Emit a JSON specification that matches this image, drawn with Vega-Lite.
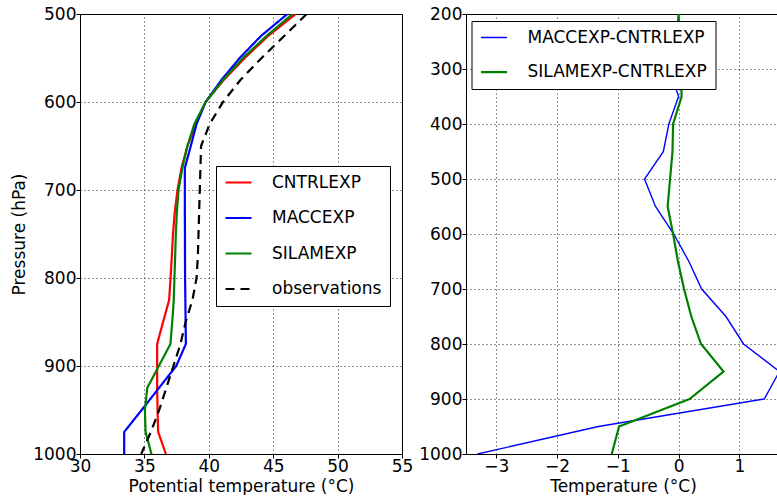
{
  "$schema": "https://vega.github.io/schema/vega-lite/v6.json",
  "background": "white",
  "padding": {"left": 10, "top": 4, "right": 0, "bottom": 0},
  "bounds": "flush",
  "spacing": 64,
  "config": {
    "font": "DejaVu Sans",
    "view": {"stroke": "black", "strokeWidth": 1},
    "axis": {
      "labelFont": "DejaVu Sans", "labelFontSize": 17, "labelColor": "black",
      "titleFont": "DejaVu Sans", "titleFontSize": 17, "titleFontWeight": "normal", "titleColor": "black",
      "domain": false, "grid": true, "gridColor": "black", "gridDash": [1, 3], "gridOpacity": 0.85,
      "ticks": true, "tickColor": "black", "tickSize": 4,
      "labelOverlap": false, "labelFlush": false, "labelBound": false
    },
    "axisX": {"labelPadding": 0, "titlePadding": 4},
    "axisY": {"labelPadding": 0, "titlePadding": 4},
    "legend": {
      "orient": "none", "symbolType": "stroke", "symbolSize": 676, "clipHeight": 17,
      "rowPadding": 17.5, "padding": 8, "labelOffset": 19, "labelFont": "DejaVu Sans",
      "labelFontSize": 17, "labelColor": "black", "strokeColor": "black", "fillColor": "white",
      "cornerRadius": 0, "labelLimit": 300
    }
  },
  "datasets": {
    "left": [
      {"p": 1000, "t": 36.67, "series": "CNTRLEXP"}, {"p": 975, "t": 36.07, "series": "CNTRLEXP"}, {"p": 950, "t": 36.02, "series": "CNTRLEXP"}, {"p": 925, "t": 35.99, "series": "CNTRLEXP"}, {"p": 900, "t": 35.99, "series": "CNTRLEXP"}, {"p": 875, "t": 35.99, "series": "CNTRLEXP"}, {"p": 850, "t": 36.45, "series": "CNTRLEXP"}, {"p": 825, "t": 36.92, "series": "CNTRLEXP"}, {"p": 800, "t": 37.03, "series": "CNTRLEXP"}, {"p": 775, "t": 37.13, "series": "CNTRLEXP"}, {"p": 750, "t": 37.22, "series": "CNTRLEXP"}, {"p": 725, "t": 37.36, "series": "CNTRLEXP"}, {"p": 700, "t": 37.57, "series": "CNTRLEXP"}, {"p": 675, "t": 37.88, "series": "CNTRLEXP"}, {"p": 650, "t": 38.34, "series": "CNTRLEXP"}, {"p": 625, "t": 38.99, "series": "CNTRLEXP"}, {"p": 600, "t": 39.75, "series": "CNTRLEXP"}, {"p": 575, "t": 41.16, "series": "CNTRLEXP"}, {"p": 550, "t": 42.79, "series": "CNTRLEXP"}, {"p": 525, "t": 44.6, "series": "CNTRLEXP"}, {"p": 500, "t": 46.75, "series": "CNTRLEXP"},
      {"p": 1000, "t": 33.43, "series": "MACCEXP"}, {"p": 975, "t": 33.43, "series": "MACCEXP"}, {"p": 950, "t": 34.79, "series": "MACCEXP"}, {"p": 925, "t": 36.13, "series": "MACCEXP"}, {"p": 900, "t": 37.47, "series": "MACCEXP"}, {"p": 875, "t": 38.22, "series": "MACCEXP"}, {"p": 850, "t": 38.2, "series": "MACCEXP"}, {"p": 825, "t": 38.18, "series": "MACCEXP"}, {"p": 800, "t": 38.16, "series": "MACCEXP"}, {"p": 775, "t": 38.15, "series": "MACCEXP"}, {"p": 750, "t": 38.15, "series": "MACCEXP"}, {"p": 725, "t": 38.14, "series": "MACCEXP"}, {"p": 700, "t": 38.14, "series": "MACCEXP"}, {"p": 675, "t": 38.14, "series": "MACCEXP"}, {"p": 650, "t": 38.6, "series": "MACCEXP"}, {"p": 625, "t": 39.05, "series": "MACCEXP"}, {"p": 600, "t": 39.75, "series": "MACCEXP"}, {"p": 575, "t": 40.98, "series": "MACCEXP"}, {"p": 550, "t": 42.4, "series": "MACCEXP"}, {"p": 525, "t": 44.05, "series": "MACCEXP"}, {"p": 500, "t": 46.1, "series": "MACCEXP"},
      {"p": 1000, "t": 35.55, "series": "SILAMEXP"}, {"p": 975, "t": 35.09, "series": "SILAMEXP"}, {"p": 950, "t": 35.04, "series": "SILAMEXP"}, {"p": 925, "t": 35.22, "series": "SILAMEXP"}, {"p": 900, "t": 36.12, "series": "SILAMEXP"}, {"p": 875, "t": 37.02, "series": "SILAMEXP"}, {"p": 850, "t": 37.16, "series": "SILAMEXP"}, {"p": 825, "t": 37.28, "series": "SILAMEXP"}, {"p": 800, "t": 37.33, "series": "SILAMEXP"}, {"p": 775, "t": 37.39, "series": "SILAMEXP"}, {"p": 750, "t": 37.44, "series": "SILAMEXP"}, {"p": 725, "t": 37.52, "series": "SILAMEXP"}, {"p": 700, "t": 37.65, "series": "SILAMEXP"}, {"p": 675, "t": 37.95, "series": "SILAMEXP"}, {"p": 650, "t": 38.34, "series": "SILAMEXP"}, {"p": 625, "t": 38.88, "series": "SILAMEXP"}, {"p": 600, "t": 39.75, "series": "SILAMEXP"}, {"p": 575, "t": 41.1, "series": "SILAMEXP"}, {"p": 550, "t": 42.66, "series": "SILAMEXP"}, {"p": 525, "t": 44.47, "series": "SILAMEXP"}, {"p": 500, "t": 46.5, "series": "SILAMEXP"},
      {"p": 1000, "t": 34.75, "series": "observations"}, {"p": 975, "t": 35.5, "series": "observations"}, {"p": 950, "t": 36.15, "series": "observations"}, {"p": 925, "t": 36.7, "series": "observations"}, {"p": 900, "t": 37.25, "series": "observations"}, {"p": 875, "t": 37.8, "series": "observations"}, {"p": 850, "t": 38.2, "series": "observations"}, {"p": 825, "t": 38.73, "series": "observations"}, {"p": 800, "t": 39.05, "series": "observations"}, {"p": 775, "t": 39.15, "series": "observations"}, {"p": 750, "t": 39.2, "series": "observations"}, {"p": 725, "t": 39.25, "series": "observations"}, {"p": 700, "t": 39.3, "series": "observations"}, {"p": 675, "t": 39.35, "series": "observations"}, {"p": 650, "t": 39.4, "series": "observations"}, {"p": 625, "t": 40.07, "series": "observations"}, {"p": 600, "t": 41.1, "series": "observations"}, {"p": 575, "t": 42.45, "series": "observations"}, {"p": 550, "t": 44.1, "series": "observations"}, {"p": 525, "t": 45.85, "series": "observations"}, {"p": 500, "t": 47.6, "series": "observations"}
    ],
    "right": [
      {"p": 1000, "d": -3.31, "series": "MACCEXP-CNTRLEXP"}, {"p": 950, "d": -1.32, "series": "MACCEXP-CNTRLEXP"}, {"p": 900, "d": 1.41, "series": "MACCEXP-CNTRLEXP"}, {"p": 850, "d": 1.66, "series": "MACCEXP-CNTRLEXP"}, {"p": 800, "d": 1.07, "series": "MACCEXP-CNTRLEXP"}, {"p": 750, "d": 0.78, "series": "MACCEXP-CNTRLEXP"}, {"p": 700, "d": 0.38, "series": "MACCEXP-CNTRLEXP"}, {"p": 650, "d": 0.17, "series": "MACCEXP-CNTRLEXP"}, {"p": 600, "d": -0.08, "series": "MACCEXP-CNTRLEXP"}, {"p": 550, "d": -0.38, "series": "MACCEXP-CNTRLEXP"}, {"p": 500, "d": -0.56, "series": "MACCEXP-CNTRLEXP"}, {"p": 450, "d": -0.25, "series": "MACCEXP-CNTRLEXP"}, {"p": 400, "d": -0.16, "series": "MACCEXP-CNTRLEXP"}, {"p": 350, "d": 0.0, "series": "MACCEXP-CNTRLEXP"}, {"p": 300, "d": -0.15, "series": "MACCEXP-CNTRLEXP"}, {"p": 250, "d": -0.05, "series": "MACCEXP-CNTRLEXP"}, {"p": 200, "d": 0.0, "series": "MACCEXP-CNTRLEXP"},
      {"p": 1000, "d": -1.1, "series": "SILAMEXP-CNTRLEXP"}, {"p": 950, "d": -0.98, "series": "SILAMEXP-CNTRLEXP"}, {"p": 900, "d": 0.18, "series": "SILAMEXP-CNTRLEXP"}, {"p": 850, "d": 0.74, "series": "SILAMEXP-CNTRLEXP"}, {"p": 800, "d": 0.37, "series": "SILAMEXP-CNTRLEXP"}, {"p": 750, "d": 0.21, "series": "SILAMEXP-CNTRLEXP"}, {"p": 700, "d": 0.09, "series": "SILAMEXP-CNTRLEXP"}, {"p": 650, "d": -0.01, "series": "SILAMEXP-CNTRLEXP"}, {"p": 600, "d": -0.09, "series": "SILAMEXP-CNTRLEXP"}, {"p": 550, "d": -0.18, "series": "SILAMEXP-CNTRLEXP"}, {"p": 500, "d": -0.14, "series": "SILAMEXP-CNTRLEXP"}, {"p": 450, "d": -0.1, "series": "SILAMEXP-CNTRLEXP"}, {"p": 400, "d": -0.09, "series": "SILAMEXP-CNTRLEXP"}, {"p": 350, "d": 0.05, "series": "SILAMEXP-CNTRLEXP"}, {"p": 300, "d": 0.04, "series": "SILAMEXP-CNTRLEXP"}, {"p": 250, "d": 0.02, "series": "SILAMEXP-CNTRLEXP"}, {"p": 200, "d": 0.0, "series": "SILAMEXP-CNTRLEXP"}
    ]
  },
  "hconcat": [
    {
      "width": 322, "height": 440,
      "data": {"name": "left"},
      "mark": {"type": "line", "strokeWidth": 2.2, "clip": true},
      "encoding": {
        "x": {"field": "t", "type": "quantitative", "scale": {"domain": [30, 55], "nice": false, "zero": false},
              "axis": {"title": "Potential temperature (°C)", "values": [30, 35, 40, 45, 50, 55], "format": "d"}},
        "y": {"field": "p", "type": "quantitative", "scale": {"domain": [500, 1000], "reverse": true, "nice": false, "zero": false},
              "axis": {"title": "Pressure (hPa)", "values": [500, 600, 700, 800, 900, 1000], "format": "d"}},
        "order": {"field": "p", "type": "quantitative"},
        "color": {"field": "series", "type": "nominal",
                  "scale": {"domain": ["CNTRLEXP", "MACCEXP", "SILAMEXP", "observations"], "range": ["#ff0000", "#0000ff", "#008000", "#000000"]},
                  "legend": {"title": null, "legendX": 136, "legendY": 152, "symbolStrokeWidth": 2.2}},
        "strokeDash": {"field": "series", "type": "nominal",
                  "scale": {"domain": ["CNTRLEXP", "MACCEXP", "SILAMEXP", "observations"], "range": [[1, 0], [1, 0], [1, 0], [9, 6]]},
                  "legend": {"title": null, "legendX": 136, "legendY": 152, "symbolStrokeWidth": 2.2}}
      }
    },
    {
      "width": 314, "height": 440,
      "data": {"name": "right"},
      "mark": {"type": "line", "clip": true},
      "encoding": {
        "x": {"field": "d", "type": "quantitative", "scale": {"domain": [-3.5, 1.67], "nice": false, "zero": false},
              "axis": {"title": "Temperature (°C)", "values": [-3, -2, -1, 0, 1], "format": "d"}},
        "y": {"field": "p", "type": "quantitative", "scale": {"domain": [200, 1000], "reverse": true, "nice": false, "zero": false},
              "axis": {"title": null, "values": [200, 300, 400, 500, 600, 700, 800, 900, 1000], "format": "d"}},
        "order": {"field": "p", "type": "quantitative"},
        "color": {"field": "series", "type": "nominal",
                  "scale": {"domain": ["MACCEXP-CNTRLEXP", "SILAMEXP-CNTRLEXP"], "range": ["#0000ff", "#008000"]},
                  "legend": {"title": null, "legendX": 5.5, "legendY": 7, "rowPadding": 16.7}},
        "strokeWidth": {"field": "series", "type": "nominal",
                  "scale": {"domain": ["MACCEXP-CNTRLEXP", "SILAMEXP-CNTRLEXP"], "range": [1.4, 2.2]},
                  "legend": {"title": null, "legendX": 5.5, "legendY": 7, "rowPadding": 16.7}}
      }
    }
  ],
  "resolve": {"scale": {"color": "independent", "strokeDash": "independent", "strokeWidth": "independent", "x": "independent", "y": "independent"}}
}
